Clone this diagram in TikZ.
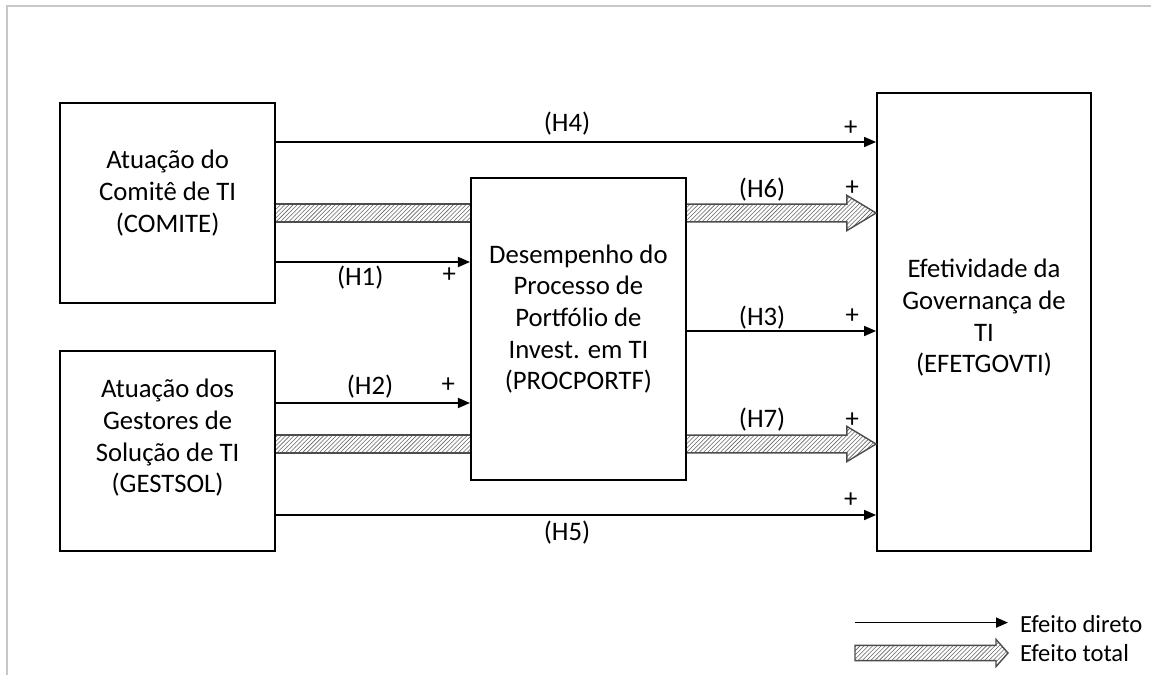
\documentclass[tikz,border=0pt]{standalone}
\usepackage{fontspec}
\setmainfont{Carlito}
\usetikzlibrary{arrows.meta, calc, patterns, positioning}

\begin{document}
\begin{tikzpicture}[
    box/.style={draw, line width=1.3pt, minimum width=5.375cm},
    boxtext/.style={align=center, font=\fontsize{19}{22.5}\selectfont},
    direct/.style={-{Triangle[length=0.3cm,width=0.25cm]}, line width=1.2pt},
    totalfx/.style={draw=black!70, line width=1pt, pattern=north east lines, pattern color=black!60},
    hyp/.style={font=\fontsize{19}{22}\selectfont, inner sep=0pt},
    plus/.style={font=\fontsize{19}{22}\selectfont, inner sep=0pt},
    legtext/.style={font=\fontsize{17.5}{20}\selectfont, inner sep=0pt, outer sep=0.3cm, anchor=west}
]
\useasboundingbox (0,0) rectangle (28.775,16.875);
\draw[black!22, line width=1.5pt] (0.175,0) -- (0.175,16.725) -- (28.775,16.725);

% construtos
\node[box, minimum height=5cm] (com) at (4.19,11.8) {};
\node[box, minimum height=5cm] (ges) at (4.19,5.6) {};
\node[box, minimum height=7.55cm] (proc) at (14.46,8.65) {};
\node[box, minimum width=5.35cm, minimum height=11.45cm] (efet) at (24.6,8.825) {};
\node[boxtext] (comt) at ([yshift=0.25cm]com.center) {Atuação do\\Comitê de TI\\(COMITE)};
\node[boxtext] (gest) at ([yshift=0.33cm]ges.center) {Atuação dos\\Gestores de\\Solução de TI\\(GESTSOL)};
\node[boxtext] (proct) at ([yshift=0.25cm]proc.center) {Desempenho do\\Processo de\\Portfólio de\\Invest. em TI\\(PROCPORTF)};
\node[boxtext] (efett) at ([yshift=0.1cm]efet.center) {Efetividade da\\Governança de\\TI\\(EFETGOVTI)};

\coordinate (h4) at ([yshift=1.525cm]com.east);
\coordinate (cb) at ([yshift=-0.25cm]com.east);
\coordinate (h1) at ([yshift=-1.475cm]com.east);
\coordinate (h2) at ([yshift=1.2cm]ges.east);
\coordinate (gb) at ([yshift=0.175cm]ges.east);
\coordinate (h5) at ([yshift=-1.6cm]ges.east);
\coordinate (h3) at ([yshift=-0.05cm]proc.east);

% efeitos diretos
\draw[direct] (h4) -- (h4 -| efet.west)
    node[hyp, pos=0.485, yshift=0.45cm] {(H4)} node[plus, pos=0.958, yshift=0.35cm] {+};
\draw[direct] (h1) -- (h1 -| proc.west)
    node[hyp, pos=0.434, yshift=-0.4cm] {(H1)} node[plus, pos=0.893, yshift=-0.325cm] {+};
\draw[direct] (h2) -- (h2 -| proc.west)
    node[hyp, pos=0.485, yshift=0.4cm] {(H2)} node[plus, pos=0.888, yshift=0.45cm] {+};
\draw[direct] (h3) -- (h3 -| efet.west)
    node[hyp, pos=0.398, yshift=0.325cm] {(H3)} node[plus, pos=0.874, yshift=0.375cm] {+};
\draw[direct] (h5) -- (h5 -| efet.west)
    node[hyp, pos=0.485, yshift=-0.45cm] {(H5)} node[plus, pos=0.958, yshift=0.375cm] {+};

% efeitos totais
\fill[pattern=north east lines, pattern color=black!60] let \p1=(cb), \p2=(cb -| proc.west) in
    (\x1,\y1+0.22cm) rectangle (\x2,\y1-0.22cm);
\draw[black!70, line width=1pt] let \p1=(cb), \p2=(cb -| proc.west) in
    (\x1,\y1+0.22cm) -- (\x2,\y1+0.22cm) (\x1,\y1-0.22cm) -- (\x2,\y1-0.22cm);
\fill[pattern=north east lines, pattern color=black!60] let \p1=(gb), \p2=(gb -| proc.west) in
    (\x1,\y1+0.22cm) rectangle (\x2,\y1-0.22cm);
\draw[black!70, line width=1pt] let \p1=(gb), \p2=(gb -| proc.west) in
    (\x1,\y1+0.22cm) -- (\x2,\y1+0.22cm) (\x1,\y1-0.22cm) -- (\x2,\y1-0.22cm);

\path[totalfx] let \p1=(cb -| proc.east), \p2=(cb -| efet.west) in
    (\x1,\y1+0.22cm) -- (\x2-0.73cm,\y1+0.22cm) -- (\x2-0.73cm,\y1+0.44cm) -- (\x2,\y1)
    -- (\x2-0.73cm,\y1-0.44cm) -- (\x2-0.73cm,\y1-0.22cm) -- (\x1,\y1-0.22cm);
\path (cb -| proc.east) -- (cb -| efet.west)
    node[hyp, pos=0.398, yshift=0.575cm] {(H6)} node[plus, pos=0.874, yshift=0.625cm] {+};
\path[totalfx] let \p1=(gb -| proc.east), \p2=(gb -| efet.west) in
    (\x1,\y1+0.22cm) -- (\x2-0.73cm,\y1+0.22cm) -- (\x2-0.73cm,\y1+0.44cm) -- (\x2,\y1)
    -- (\x2-0.73cm,\y1-0.44cm) -- (\x2-0.73cm,\y1-0.22cm) -- (\x1,\y1-0.22cm);
\path (gb -| proc.east) -- (gb -| efet.west)
    node[hyp, pos=0.398, yshift=0.6cm] {(H7)} node[plus, pos=0.874, yshift=0.6cm] {+};

% legenda
\node[legtext] (ldir) at (25.2,1.27) {Efeito direto};
\node[legtext] (ltot) at (25.2,0.55) {Efeito total};
\coordinate (ld) at (21.375,1.31);
\coordinate (lt) at (21.375,0.55);
\draw[direct] (ld) -- (ld -| ldir.west);
\path[totalfx] let \p1=(lt), \p2=(lt -| ltot.west) in
    (\x1,\y1+0.19cm) -- (\x2-0.3cm,\y1+0.19cm) -- (\x2-0.3cm,\y1+0.34cm) -- (\x2,\y1)
    -- (\x2-0.3cm,\y1-0.34cm) -- (\x2-0.3cm,\y1-0.19cm) -- (\x1,\y1-0.19cm) -- cycle;
\end{tikzpicture}
\end{document}
